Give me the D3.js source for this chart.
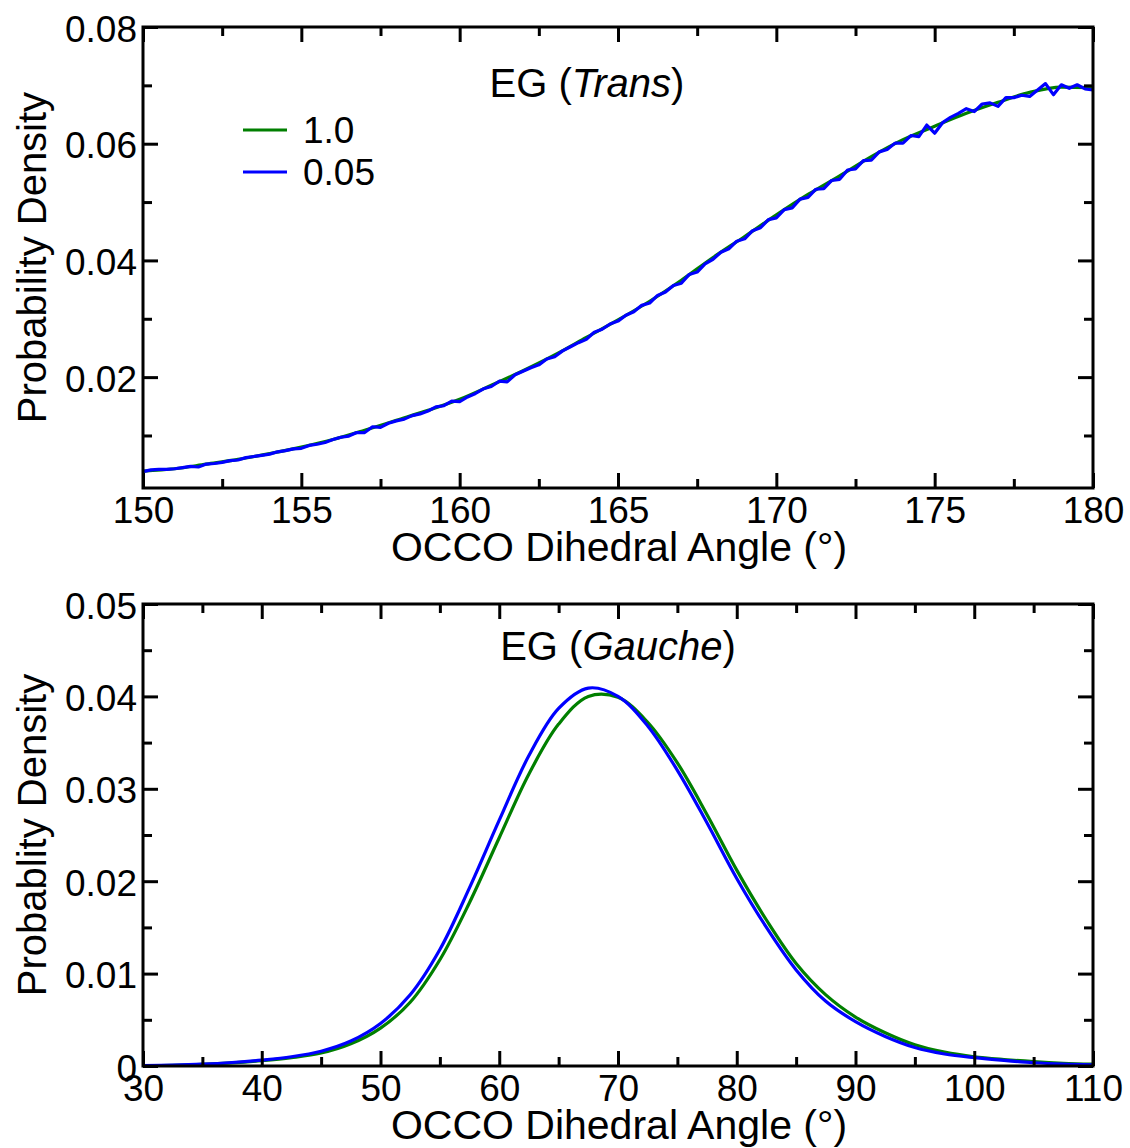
<!DOCTYPE html>
<html>
<head>
<meta charset="utf-8">
<script src="https://cdn.jsdelivr.net/npm/d3@7"></script>
<style>
body { margin: 0; background: #fff; }
text { font-family: "Liberation Sans", Arial, Helvetica, sans-serif; fill: #000; }
</style>
</head>
<body>
<div class="canvas"></div>
<script>
var width = 1130,
	height = 1148;

/* ---------- data: EG trans (top) ---------- */
var transAngle = [150, 151, 152, 153, 154, 155, 156, 157, 158, 159, 160, 161, 162, 163, 164, 165,
	166, 167, 168, 169, 170, 171, 172, 173, 174, 175, 176, 177, 178, 179, 180];
var transGreen = [0.0039, 0.0043, 0.0051, 0.0059, 0.0069, 0.0080, 0.0093, 0.0109, 0.0126, 0.0143,
	0.0162, 0.0186, 0.0211, 0.0238, 0.0268, 0.0298, 0.0330, 0.0366, 0.0405, 0.0441, 0.0478,
	0.0513, 0.0545, 0.0578, 0.0607, 0.0630, 0.0652, 0.0671, 0.0688, 0.0697, 0.0696];

var transAngleFine = [150.00, 150.25, 150.50, 150.75, 151.00, 151.25, 151.50, 151.75, 152.00, 152.25,
	152.50, 152.75, 153.00, 153.25, 153.50, 153.75, 154.00, 154.25, 154.50, 154.75, 155.00,
	155.25, 155.50, 155.75, 156.00, 156.25, 156.50, 156.75, 157.00, 157.25, 157.50, 157.75,
	158.00, 158.25, 158.50, 158.75, 159.00, 159.25, 159.50, 159.75, 160.00, 160.25, 160.50,
	160.75, 161.00, 161.25, 161.50, 161.75, 162.00, 162.25, 162.50, 162.75, 163.00, 163.25,
	163.50, 163.75, 164.00, 164.25, 164.50, 164.75, 165.00, 165.25, 165.50, 165.75, 166.00,
	166.25, 166.50, 166.75, 167.00, 167.25, 167.50, 167.75, 168.00, 168.25, 168.50, 168.75,
	169.00, 169.25, 169.50, 169.75, 170.00, 170.25, 170.50, 170.75, 171.00, 171.25, 171.50,
	171.75, 172.00, 172.25, 172.50, 172.75, 173.00, 173.25, 173.50, 173.75, 174.00, 174.25,
	174.50, 174.75, 175.00, 175.25, 175.50, 175.75, 176.00, 176.25, 176.50, 176.75, 177.00,
	177.25, 177.50, 177.75, 178.00, 178.25, 178.50, 178.75, 179.00, 179.25, 179.50, 179.75, 180.00];
var transBlue = [0.0038, 0.0041, 0.0042, 0.0042, 0.0043, 0.0045, 0.0047, 0.0046, 0.0051, 0.0052,
	0.0054, 0.0057, 0.0058, 0.0062, 0.0064, 0.0066, 0.0068, 0.0072, 0.0074, 0.0077, 0.0078,
	0.0083, 0.0085, 0.0088, 0.0093, 0.0097, 0.0099, 0.0105, 0.0105, 0.0115, 0.0114, 0.0121,
	0.0125, 0.0128, 0.0134, 0.0137, 0.0142, 0.0149, 0.0151, 0.0159, 0.0158, 0.0166, 0.0172,
	0.0180, 0.0184, 0.0193, 0.0192, 0.0204, 0.0210, 0.0216, 0.0221, 0.0231, 0.0235, 0.0245,
	0.0252, 0.0259, 0.0265, 0.0277, 0.0282, 0.0291, 0.0296, 0.0306, 0.0312, 0.0323, 0.0327,
	0.0340, 0.0346, 0.0357, 0.0361, 0.0376, 0.0380, 0.0394, 0.0402, 0.0414, 0.0420, 0.0433,
	0.0437, 0.0451, 0.0456, 0.0470, 0.0473, 0.0487, 0.0490, 0.0505, 0.0508, 0.0522, 0.0523,
	0.0537, 0.0539, 0.0555, 0.0557, 0.0571, 0.0572, 0.0586, 0.0590, 0.0601, 0.0601, 0.0614,
	0.0612, 0.0632, 0.0618, 0.0636, 0.0645, 0.0652, 0.0660, 0.0655, 0.0668, 0.0670, 0.0664,
	0.0679, 0.0679, 0.0683, 0.0681, 0.0692, 0.0703, 0.0684, 0.0701, 0.0695, 0.0701, 0.0694, 0.0692];

/* ---------- data: EG gauche (bottom) ---------- */
var gaucheAngle = [30, 32.5, 35, 37.5, 40, 42.5, 45, 47.5, 50, 52.5, 55, 57.5, 60, 62.5, 65, 67.5,
	70, 72.5, 75, 77.5, 80, 82.5, 85, 87.5, 90, 92.5, 95, 97.5, 100, 102.5, 105, 107.5, 110];
var gaucheGreen = [0.00003, 0.00008, 0.00017, 0.00033, 0.00057, 0.0009, 0.0014, 0.0024, 0.0041,
	0.0069, 0.0115, 0.0177, 0.0247, 0.0316, 0.0370, 0.0400, 0.0399, 0.0372, 0.0328, 0.0272,
	0.0212, 0.0158, 0.0111, 0.0077, 0.0053, 0.0036, 0.0023, 0.0015, 0.0010, 0.0007, 0.00047,
	0.0003, 0.0002];
var gaucheBlue = [0.00003, 0.00009, 0.0002, 0.00038, 0.00064, 0.001, 0.0016, 0.0027, 0.0046,
	0.0077, 0.0126, 0.0193, 0.0266, 0.0336, 0.0387, 0.0409, 0.0400, 0.0368, 0.0320, 0.0263,
	0.0203, 0.0150, 0.0104, 0.0070, 0.0048, 0.0032, 0.0020, 0.0013, 0.0009, 0.0006, 0.00035,
	0.0002, 0.00012];

var legendNames = ["1.0", "0.05"];
var colors = ["#007f00", "#0000ff"];

var transXMajor = [150, 155, 160, 165, 170, 175, 180];
var transXMinor = [152.5, 157.5, 162.5, 167.5, 172.5, 177.5];
var transYMajor = [0.02, 0.04, 0.06, 0.08];
var transYMinor = [0.01, 0.03, 0.05, 0.07];
var gaucheXMajor = [30, 40, 50, 60, 70, 80, 90, 100, 110];
var gaucheXMinor = [35, 45, 55, 65, 75, 85, 95, 105];
var gaucheYMajor = [0, 0.01, 0.02, 0.03, 0.04, 0.05];
var gaucheYMinor = [0.005, 0.015, 0.025, 0.035, 0.045];

var canvas = d3.select(".canvas")
	.append("svg")
	.attr('width', width)
	.attr('height', height);

var topX = d3.scaleLinear().domain([150, 180]).range([143, 1093]);
var topY = d3.scaleLinear().domain([0.001, 0.08]).range([488, 27]);
var botX = d3.scaleLinear().domain([30, 110]).range([143, 1093]);
var botY = d3.scaleLinear().domain([0, 0.05]).range([1066, 604]);

function yFmt(d) {
	return d === 0 ? "0" : d.toFixed(2);
}

/* ---------- axes and frame ---------- */
function drawFrame(x, y, xMajor, xMinor, yMajor, yMinor) {
	var x0 = x.range()[0], x1 = x.range()[1],
		y0 = y.range()[0], y1 = y.range()[1];
	var g = canvas.append('g');

	function put(axis, tx, ty) {
		var a = g.append('g')
			.attr('transform', 'translate(' + tx + ',' + ty + ')')
			.call(axis);
		// d3 sets its own font on the group, override after the call
		a.attr('font-family', '"Liberation Sans", Arial, sans-serif')
			.attr('font-size', 37);
		a.select('.domain').remove();
		a.selectAll('.tick line').attr('stroke', '#000').attr('stroke-width', 3);
		a.selectAll('.tick text').attr('fill', '#000');
		return a;
	}

	// minor ticks
	put(d3.axisBottom(x).tickValues(xMinor).tickSize(-9).tickFormat(''), 0, y0);
	put(d3.axisTop(x).tickValues(xMinor).tickSize(-9).tickFormat(''), 0, y1);
	put(d3.axisLeft(y).tickValues(yMinor).tickSize(-9).tickFormat(''), x0, 0);
	put(d3.axisRight(y).tickValues(yMinor).tickSize(-9).tickFormat(''), x1, 0);

	// major ticks
	put(d3.axisBottom(x).tickValues(xMajor).tickSize(-15).tickPadding(9).tickFormat(d3.format('d')), 0, y0);
	put(d3.axisTop(x).tickValues(xMajor).tickSize(-15).tickFormat(''), 0, y1);
	var left = put(d3.axisLeft(y).tickValues(yMajor).tickSize(-15).tickPadding(6).tickFormat(yFmt), x0, 0);
	left.selectAll('text').attr('dy', '0.38em');
	put(d3.axisRight(y).tickValues(yMajor).tickSize(-15).tickFormat(''), x1, 0);

	g.append('rect')
		.attr('x', x0)
		.attr('y', y1)
		.attr('width', x1 - x0)
		.attr('height', y0 - y1)
		.attr('fill', 'none')
		.attr('stroke', '#000')
		.attr('stroke-width', 3);
}

function drawLine(x, y, xs, ys, color, curve) {
	var line = d3.line()
		.x(function(d, i) { return x(xs[i]); })
		.y(function(d) { return y(d); })
		.curve(curve);
	canvas.append('path')
		.datum(ys)
		.attr('d', line)
		.attr('fill', 'none')
		.attr('stroke', color)
		.attr('stroke-width', 3.2)
		.attr('stroke-linejoin', 'round');
}

function axisTitles(cy, xTitleY, yLabel) {
	canvas.append('text')
		.attr('x', 619)
		.attr('y', xTitleY)
		.attr('text-anchor', 'middle')
		.attr('font-size', 41)
		.text('OCCO Dihedral Angle (\u00b0)');
	canvas.append('text')
		.attr('transform', 'translate(46,' + cy + ') rotate(-90)')
		.attr('text-anchor', 'middle')
		.attr('font-size', 40)
		.text(yLabel);
}

function panelTitle(cx, cy, word) {
	var t = canvas.append('text')
		.attr('x', cx)
		.attr('y', cy)
		.attr('text-anchor', 'middle')
		.attr('font-size', 40);
	t.append('tspan').text('EG (');
	t.append('tspan').attr('font-style', 'italic').text(word);
	t.append('tspan').text(')');
}

/* ---------- top panel ---------- */
drawLine(topX, topY, transAngle, transGreen, colors[0], d3.curveMonotoneX);
drawLine(topX, topY, transAngleFine, transBlue, colors[1], d3.curveLinear);
drawFrame(topX, topY, transXMajor, transXMinor, transYMajor, transYMinor);
axisTitles(257.5, 561, 'Probability Density');
panelTitle(587, 97, 'Trans');

// legend
var legendY = [130, 172];
legendNames.forEach(function(name, i) {
	canvas.append('line')
		.attr('x1', 243).attr('x2', 287)
		.attr('y1', legendY[i]).attr('y2', legendY[i])
		.attr('stroke', colors[i])
		.attr('stroke-width', 3.2);
	canvas.append('text')
		.attr('x', 303)
		.attr('y', legendY[i] + 13)
		.attr('font-size', 37)
		.text(name);
});

/* ---------- bottom panel ---------- */
drawLine(botX, botY, gaucheAngle, gaucheGreen, colors[0], d3.curveCatmullRom.alpha(0.5));
drawLine(botX, botY, gaucheAngle, gaucheBlue, colors[1], d3.curveCatmullRom.alpha(0.5));
drawFrame(botX, botY, gaucheXMajor, gaucheXMinor, gaucheYMajor, gaucheYMinor);
axisTitles(835, 1139, 'Probablity Density');
panelTitle(618, 660, 'Gauche');
</script>
</body>
</html>
